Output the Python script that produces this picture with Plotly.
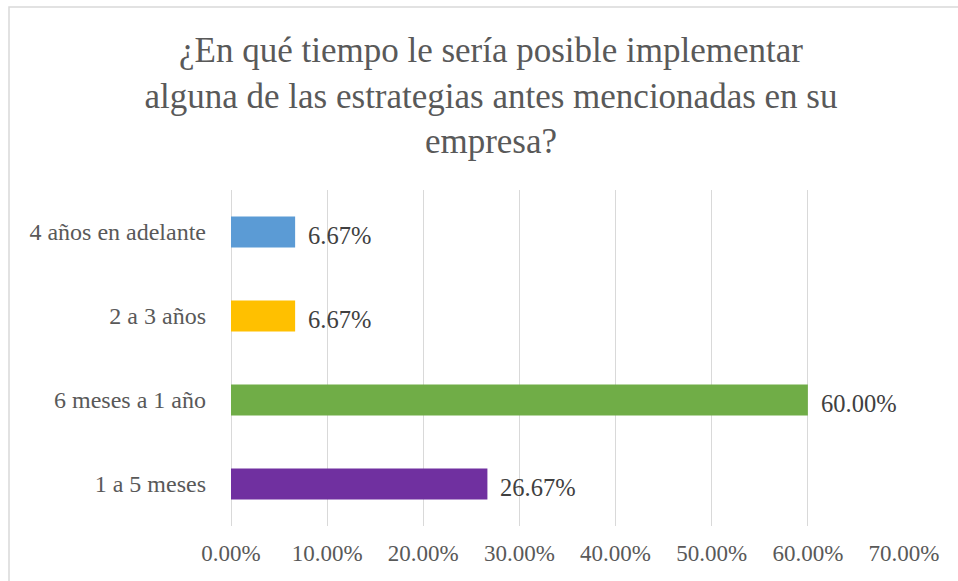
import plotly.graph_objects as go

categories = ["1 a 5 meses", "6 meses a 1 año", "2 a 3 años", "4 años en adelante"]
values = [0.2667, 0.60, 0.0667, 0.0667]
colors = ["#7030A0", "#70AD47", "#FFC000", "#5B9BD5"]
tick_vals = [0, 0.1, 0.2, 0.3, 0.4, 0.5, 0.6, 0.7]
tick_text = ["0.00%", "10.00%", "20.00%", "30.00%", "40.00%", "50.00%", "60.00%", "70.00%"]
title_text = "¿En qué tiempo le sería posible implementar<br>alguna de las estrategias antes mencionadas en su<br>empresa?"

FONT = "'Liberation Serif', Tinos, 'Times New Roman', serif"
W, H = 958, 581
L, R, T, B = 231, 54, 190, 55
pw, ph = W - L - R, H - T - B

fig = go.Figure()
fig.add_trace(go.Bar(
    x=values, y=categories, orientation="h",
    marker=dict(color=colors, line=dict(width=0)),
    hoverinfo="skip", showlegend=False,
))

for c, v in zip(categories, values):
    fig.add_annotation(
        x=v, y=c, xref="x", yref="y", text=f"{v*100:.2f}%",
        showarrow=False, xanchor="left", yanchor="middle",
        xshift=11, yshift=-3,
        font=dict(family=FONT, size=24.5, color="#404040"),
    )

# chart frame
fig.add_shape(
    type="rect", xref="paper", yref="paper",
    x0=(9 - L) / pw, x1=(W + 5 - L) / pw,
    y0=(H - B - (H + 5)) / ph, y1=(H - B - 7) / ph,
    line=dict(color="#D9D9D9", width=1.5), fillcolor="rgba(0,0,0,0)", layer="below",
)

fig.update_layout(
    width=W, height=H,
    margin=dict(l=L, r=R, t=T, b=B, pad=0),
    paper_bgcolor="white", plot_bgcolor="white",
    bargap=0.63,
    font=dict(family=FONT),
    title=dict(
        text=title_text, x=491 / W, xanchor="center",
        y=1 - 62 / H, yanchor="top", yref="container",
        font=dict(family=FONT, size=35, color="#595959"),
    ),
    xaxis=dict(
        range=[0, 0.7], tickvals=tick_vals, ticktext=tick_text,
        showgrid=True, gridcolor="#D9D9D9", gridwidth=1,
        zeroline=True, zerolinecolor="#D9D9D9", zerolinewidth=1,
        showline=False, ticks="", ticklabelstandoff=11,
        tickfont=dict(family=FONT, size=23, color="#595959"),
        fixedrange=True,
    ),
    yaxis=dict(
        categoryorder="array", categoryarray=categories,
        showgrid=False, zeroline=False, showline=False, ticks="",
        ticklabelstandoff=24,
        tickfont=dict(family=FONT, size=24, color="#595959"),
        fixedrange=True,
    ),
)

fig.write_html(
    "out.html",
    config={"displayModeBar": False},
    post_script="document.body.style.margin='0';document.body.style.overflow='hidden';",
)
